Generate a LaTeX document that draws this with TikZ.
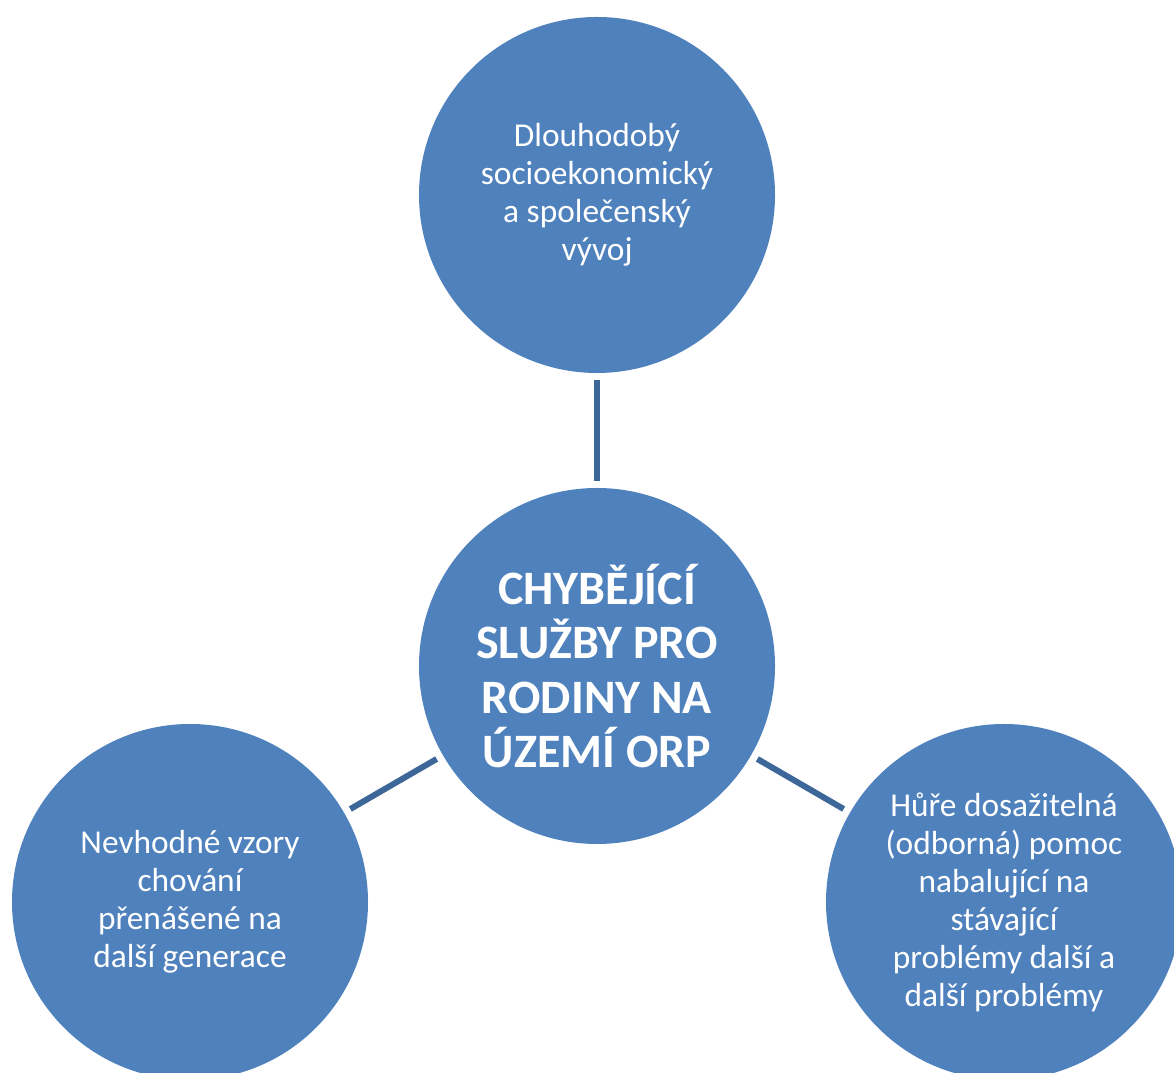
\documentclass[tikz,border=0pt]{standalone}
\usepackage{fontspec}
\setmainfont{Carlito}
\definecolor{bubblefill}{HTML}{4F81BD}
\definecolor{linkcol}{HTML}{3D6699}

\begin{document}
\begin{tikzpicture}[bubble/.style={circle, fill=bubblefill, text=white, minimum size=7.12cm, inner sep=0pt, align=center, font=\fontsize{19}{21.6}\selectfont},
	hub/.style={bubble, font=\bfseries\fontsize{27.3}{30.8}\selectfont},
	link/.style={linkcol, line width=3.4pt, shorten <=4pt, shorten >=4pt}]
	\useasboundingbox (0,0) rectangle (23.48,21.46);
	\node[hub] (core) at (11.94,8.14) {CHYBĚJÍCÍ\\SLUŽBY PRO\\RODINY NA\\ÚZEMÍ ORP};
	\node[bubble] (trend) at (11.94,17.56) {Dlouhodobý\\socioekonomický\\a společenský\\vývoj};
	\node[bubble] (habits) at (3.80,3.42) {Nevhodné vzory\\chování\\přenášené na\\další generace};
	\node[bubble] (help) at (20.08,3.42) {Hůře dosažitelná\\(odborná) pomoc\\nabalující na\\stávající\\problémy další a\\další problémy};
	\foreach \n in {trend, habits, help} {\draw[link] (core) -- (\n);}
\end{tikzpicture}
\end{document}
